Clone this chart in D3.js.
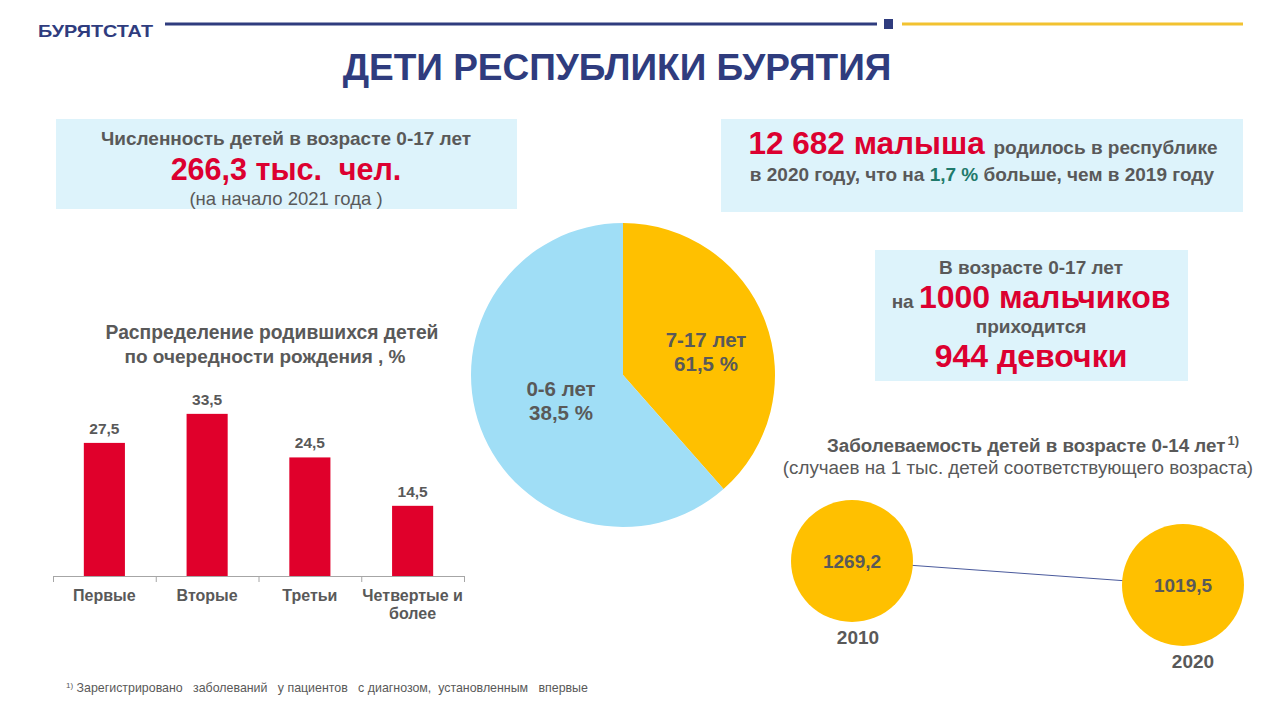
<!DOCTYPE html>
<html><head><meta charset="utf-8">
<script src="https://cdn.jsdelivr.net/npm/d3@7"></script>
<style>
html,body{margin:0;padding:0;background:#fff;}
svg{display:block;font-family:"Liberation Sans",Arial,sans-serif;}
</style></head>
<body>
<svg id="c" width="1280" height="720"></svg>
<script>
// ---- data ----
const barCategories = [["Первые"], ["Вторые"], ["Третьи"], ["Четвертые и", "более"]];
const barValues = [27.5, 33.5, 24.5, 14.5];
const barLabels = ["27,5", "33,5", "24,5", "14,5"];

const pieValues = [38.5, 61.5];              // slice sizes as drawn
const pieNames = ["7-17 лет", "0-6 лет"];
const pieLabels = ["61,5 %", "38,5 %"];        // labels as printed

const illYears = [2010, 2020];
const illValues = [1269.2, 1019.5];
const illLabels = ["1269,2", "1019,5"];

// ---- styles ----
const GRAY = "#595959", RED = "#DC0030", NAVY = "#2F3C7E", YEL = "#FFC000", LBLUE = "#A0DEF6", BOX = "#DDF3FB";

const svg = d3.select("#c");

// header
svg.append("text").attr("x", 38).attr("y", 37).attr("font-size", 17).attr("font-weight", "bold")
  .attr("fill", NAVY).attr("textLength", 115).attr("lengthAdjust", "spacingAndGlyphs").text("БУРЯТСТАТ");
svg.append("line").attr("x1", 165).attr("x2", 877).attr("y1", 24).attr("y2", 24).attr("stroke", NAVY).attr("stroke-width", 3);
svg.append("rect").attr("x", 884).attr("y", 19).attr("width", 9).attr("height", 10).attr("fill", NAVY);
svg.append("line").attr("x1", 902).attr("x2", 1243).attr("y1", 24).attr("y2", 24).attr("stroke", "#F2C230").attr("stroke-width", 3);
svg.append("text").attr("x", 617).attr("y", 80).attr("text-anchor", "middle").attr("font-size", 37)
  .attr("font-weight", "bold").attr("fill", NAVY).text("ДЕТИ РЕСПУБЛИКИ БУРЯТИЯ");

// box 1
svg.append("rect").attr("x", 56).attr("y", 119).attr("width", 461).attr("height", 90).attr("fill", BOX);
svg.append("text").attr("x", 286).attr("y", 145).attr("text-anchor", "middle").attr("font-size", 19)
  .attr("font-weight", "bold").attr("fill", GRAY).text("Численность детей в возрасте 0-17 лет");
svg.append("text").attr("x", 286).attr("y", 180).attr("text-anchor", "middle").attr("font-size", 30.5)
  .attr("font-weight", "bold").attr("fill", RED).attr("xml:space", "preserve").text("266,3 тыс.  чел.");
svg.append("text").attr("x", 286).attr("y", 205).attr("text-anchor", "middle").attr("font-size", 18.5)
  .attr("fill", GRAY).text("(на начало 2021 года )");

// box 2
svg.append("rect").attr("x", 721).attr("y", 119).attr("width", 522).attr("height", 93).attr("fill", BOX);
const t2 = svg.append("text").attr("x", 983).attr("y", 154).attr("text-anchor", "middle").attr("font-weight", "bold");
t2.append("tspan").attr("font-size", 31.5).attr("fill", RED).text("12 682 малыша ");
t2.append("tspan").attr("font-size", 19).attr("fill", GRAY).text("родилось в республике");
const t3 = svg.append("text").attr("x", 982).attr("y", 181).attr("text-anchor", "middle").attr("font-weight", "bold").attr("font-size", 19);
t3.append("tspan").attr("fill", GRAY).text("в 2020 году, что на ");
t3.append("tspan").attr("fill", "#1F7A6B").text("1,7 %");
t3.append("tspan").attr("fill", GRAY).text(" больше, чем в 2019 году");

// box 3
svg.append("rect").attr("x", 875).attr("y", 250).attr("width", 313).attr("height", 131).attr("fill", BOX);
svg.append("text").attr("x", 1031).attr("y", 274).attr("text-anchor", "middle").attr("font-size", 19)
  .attr("font-weight", "bold").attr("fill", GRAY).text("В возрасте 0-17 лет");
const t4 = svg.append("text").attr("x", 1031).attr("y", 308).attr("text-anchor", "middle").attr("font-weight", "bold");
t4.append("tspan").attr("font-size", 19).attr("fill", GRAY).text("на ");
t4.append("tspan").attr("font-size", 32).attr("fill", RED).text("1000 мальчиков");
svg.append("text").attr("x", 1031).attr("y", 333).attr("text-anchor", "middle").attr("font-size", 19)
  .attr("font-weight", "bold").attr("fill", GRAY).text("приходится");
svg.append("text").attr("x", 1031).attr("y", 367).attr("text-anchor", "middle").attr("font-size", 32)
  .attr("font-weight", "bold").attr("fill", RED).text("944 девочки");

// ---- bar chart ----
svg.append("text").attr("x", 272).attr("y", 339).attr("text-anchor", "middle").attr("font-size", 19.3)
  .attr("font-weight", "bold").attr("fill", GRAY).text("Распределение родившихся детей");
svg.append("text").attr("x", 265).attr("y", 363).attr("text-anchor", "middle").attr("font-size", 19)
  .attr("font-weight", "bold").attr("fill", GRAY).text("по очередности рождения , %");

const bx = d3.scaleBand().domain(d3.range(barValues.length)).range([53, 464]).paddingInner(0.6).paddingOuter(0.3);
const by = d3.scaleLinear().domain([0, 40]).range([576, 382.4]);
const bg = svg.append("g");
bg.selectAll("rect").data(barValues).join("rect")
  .attr("x", (d, i) => bx(i)).attr("width", bx.bandwidth())
  .attr("y", d => by(d)).attr("height", d => by(0) - by(d)).attr("fill", "#E0002B");
bg.selectAll("text.v").data(barValues).join("text").attr("class", "v")
  .attr("x", (d, i) => bx(i) + bx.bandwidth() / 2).attr("y", d => by(d) - 9)
  .attr("text-anchor", "middle").attr("font-size", 15.5).attr("font-weight", "bold").attr("fill", GRAY)
  .text((d, i) => barLabels[i]);
// axis
const ax = d3.scaleLinear().domain([0, barValues.length]).range([53, 464]);
const axg = svg.append("g").attr("transform", "translate(0,576)")
  .call(d3.axisBottom(ax).tickValues(d3.range(barValues.length + 1)).tickSize(6).tickSizeOuter(0).tickFormat(""));
axg.select(".domain").attr("stroke", "#A6A6A6");
axg.selectAll(".tick line").attr("stroke", "#A6A6A6");
bg.selectAll("text.c").data(barCategories).join("text").attr("class", "c")
  .attr("x", (d, i) => (ax(i) + ax(i + 1)) / 2).attr("y", 601)
  .attr("text-anchor", "middle").attr("font-size", 16).attr("font-weight", "bold").attr("fill", GRAY)
  .each(function (d) {
    d.forEach((line, j) => d3.select(this).append("tspan").attr("x", d3.select(this).attr("x")).attr("dy", j ? 18 : 0).text(line));
  });

// ---- pie ----
const pie = d3.pie().sort(null).value(d => d)(pieValues);
const arc = d3.arc().innerRadius(0).outerRadius(152);
const pg = svg.append("g").attr("transform", "translate(623,375)");
pg.selectAll("path").data(pie).join("path").attr("d", arc).attr("fill", (d, i) => [YEL, LBLUE][i]);
const labelPos = [[83, -28], [-62, 21]];
pg.selectAll("text").data(pie).join("text")
  .attr("text-anchor", "middle").attr("font-size", 20.5).attr("font-weight", "bold").attr("fill", GRAY)
  .attr("transform", (d, i) => `translate(${labelPos[i][0]},${labelPos[i][1]})`)
  .each(function (d, i) {
    const s = d3.select(this);
    s.append("tspan").attr("x", 0).attr("dy", 0).text(pieNames[i]);
    s.append("tspan").attr("x", 0).attr("dy", 24).text(pieLabels[i]);
  });

// ---- incidence bubbles ----
const it = svg.append("text").attr("x", 1033).attr("y", 452).attr("text-anchor", "middle").attr("font-size", 18.8)
  .attr("font-weight", "bold").attr("fill", GRAY);
it.append("tspan").text("Заболеваемость детей в возрасте 0-14 лет");
it.append("tspan").attr("font-size", 13).attr("dx", 2).attr("dy", -7).text("1)");
svg.append("text").attr("x", 1018).attr("y", 474).attr("text-anchor", "middle").attr("font-size", 18.8)
  .attr("fill", GRAY).text("(случаев на  1 тыс. детей соответствующего возраста)");

const ix = d3.scaleLinear().domain([2010, 2020]).range([852, 1183]);
const iy = d3.scaleLinear().domain([1019.5, 1269.2]).range([585, 561]);
const ig = svg.append("g");
ig.append("path").datum(illValues)
  .attr("d", d3.line().x((d, i) => ix(illYears[i])).y(d => iy(d)))
  .attr("stroke", "#4A5A9C").attr("stroke-width", 1).attr("fill", "none");
ig.selectAll("circle").data(illValues).join("circle")
  .attr("cx", (d, i) => ix(illYears[i])).attr("cy", d => iy(d)).attr("r", 61).attr("fill", YEL);
ig.selectAll("text.v").data(illValues).join("text").attr("class", "v")
  .attr("x", (d, i) => ix(illYears[i])).attr("y", d => iy(d) + 7)
  .attr("text-anchor", "middle").attr("font-size", 19).attr("font-weight", "bold").attr("fill", GRAY)
  .text((d, i) => illLabels[i]);
ig.selectAll("text.y").data(illValues).join("text").attr("class", "y")
  .attr("x", (d, i) => ix(illYears[i]) + [6, 10][i]).attr("y", d => iy(d) + 83)
  .attr("text-anchor", "middle").attr("font-size", 19).attr("font-weight", "bold").attr("fill", GRAY)
  .text((d, i) => illYears[i]);

// footnote
const fn = svg.append("text").attr("x", 66).attr("y", 692).attr("font-size", 12.4).attr("fill", GRAY).attr("xml:space", "preserve");
fn.append("tspan").attr("font-size", 8).attr("dy", -4).text("1)");
fn.append("tspan").attr("dy", 4).text(" Зарегистрировано   заболеваний   у пациентов   с диагнозом,  установленным   впервые");
</script>
</body></html>
